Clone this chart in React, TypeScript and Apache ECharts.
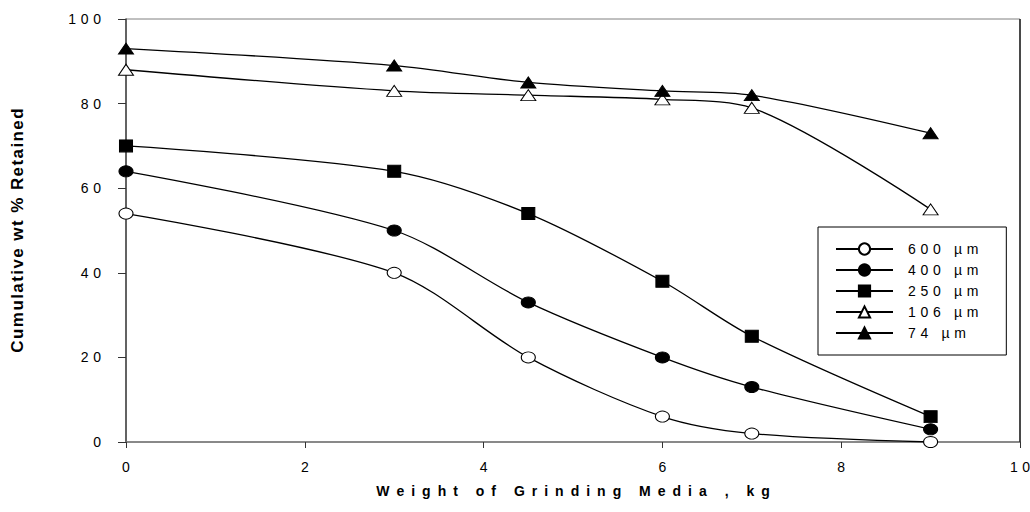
import React, { useEffect, useRef } from "react";
import * as echarts from "echarts";

const weights = [0, 3, 4.5, 6, 7, 9];
const s600 = [54, 40, 20, 6, 2, 0];
const s400 = [64, 50, 33, 20, 13, 3];
const s250 = [70, 64, 54, 38, 25, 6];
const s106 = [88, 83, 82, 81, 79, 55];
const s74 = [93, 89, 85, 83, 82, 73];
const seriesNames = ["600 µm", "400 µm", "250 µm", "106 µm", "74 µm"];
const xTitle = "Weight of Grinding Media , kg";
const yTitle = "Cumulative wt % Retained";

const FONT = "Liberation Sans, Arial, sans-serif";
const spaced = (s: string, sp = "\u2004") => Array.from(s).join(sp);

export default function App() {
  const ref = useRef<HTMLDivElement>(null);
  useEffect(() => {
    if (!ref.current) return;
    const chart = echarts.init(ref.current, undefined, { renderer: "svg" });
    const pair = (ys: number[]) => weights.map((x, i) => [x, ys[i]]);
    const mk = (
      name: string,
      ys: number[],
      symbol: string,
      size: number[],
      filled: boolean
    ) => ({
      type: "line",
      name: spaced(name),
      data: pair(ys),
      smooth: 0.3,
      symbol,
      symbolSize: size,
      lineStyle: { color: "#000", width: 1.3 },
      itemStyle: {
        color: filled ? "#000" : "#fff",
        borderColor: "#000",
        borderWidth: 1,
      },
      z: 3,
    });
    chart.setOption({
      animation: false,
      backgroundColor: "#fff",
      textStyle: { fontFamily: FONT, color: "#000" },
      grid: {
        left: 126,
        right: 10,
        top: 19,
        bottom: 70,
        show: true,
        borderColor: "#808080",
        borderWidth: 1,
        outerBoundsMode: "none",
        containLabel: false,
      },
      graphic: [
        {
          type: "line",
          shape: { x1: 1020, y1: 19, x2: 1020, y2: 442 },
          style: { stroke: "#222", lineWidth: 1.5 },
          z: 10,
        },
      ],
      legend: {
        orient: "vertical",
        left: 818,
        top: 227,
        itemWidth: 57,
        itemHeight: 14,
        itemGap: 7,
        padding: [15, 28, 15, 17],
        borderColor: "#000",
        borderWidth: 1,
        backgroundColor: "#fff",
        textStyle: {
          fontSize: 14,
          color: "#000",
          padding: [0, 0, 0, 10],
          fontFamily: FONT,
        },
      },
      xAxis: {
        type: "value",
        min: 0,
        max: 10,
        interval: 2,
        name: spaced(xTitle, "\u2002"),
        nameLocation: "middle",
        nameGap: 42,
        nameTextStyle: {
          fontSize: 14,
          fontWeight: "bold",
          color: "#000",
          fontFamily: FONT,
        },
        axisLine: { lineStyle: { color: "#777", width: 1.5 } },
        axisTick: { show: true, length: 6, lineStyle: { color: "#333" } },
        splitLine: { show: false },
        axisLabel: {
          fontSize: 14,
          color: "#000",
          margin: 18,
          formatter: (v: number) => spaced(String(v)),
        },
      },
      yAxis: {
        type: "value",
        min: 0,
        max: 100,
        interval: 20,
        name: spaced(yTitle, "\u200A"),
        nameLocation: "middle",
        nameGap: 100,
        nameTextStyle: {
          fontSize: 17,
          fontWeight: "bold",
          color: "#000",
          fontFamily: FONT,
        },
        axisLine: { show: true, lineStyle: { color: "#444", width: 1.5 } },
        axisTick: { show: true, length: 8, lineStyle: { color: "#333" } },
        splitLine: { show: false },
        axisLabel: {
          fontSize: 14,
          color: "#000",
          margin: 25,
          formatter: (v: number) => spaced(String(v)),
        },
      },
      series: [
        mk(seriesNames[0], s600, "circle", [14, 11], false),
        mk(seriesNames[1], s400, "circle", [14, 11], true),
        mk(seriesNames[2], s250, "rect", [13, 12], true),
        mk(seriesNames[3], s106, "triangle", [15, 11], false),
        mk(seriesNames[4], s74, "triangle", [15, 11], true),
      ],
    });
    return () => chart.dispose();
  }, []);
  return (
    <div
      ref={ref}
      style={{ width: 1030, height: 512, position: "absolute", left: 0, top: 0 }}
    />
  );
}
